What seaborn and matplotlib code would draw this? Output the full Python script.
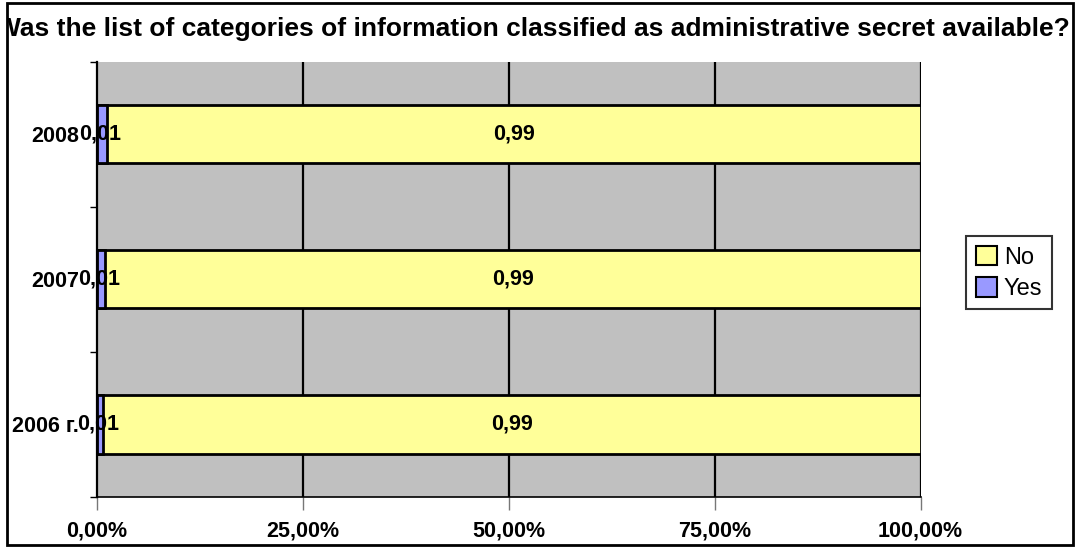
import numpy as np
import pandas as pd
import seaborn as sns
import matplotlib.pyplot as plt
from matplotlib.patches import Rectangle, Patch

years = ["2008", "2007", "2006 г."]
yes_share = [0.012, 0.010, 0.007]
no_share = [0.988, 0.990, 0.993]
yes_labels = ["0,01", "0,01", "0,01"]
no_labels = ["0,99", "0,99", "0,99"]
xtick_vals = [0, 0.25, 0.5, 0.75, 1.0]
xtick_text = ["0,00%", "25,00%", "50,00%", "75,00%", "100,00%"]

df = pd.DataFrame({"year": years, "yes": yes_share, "no": no_share})
df["total"] = df["yes"] + df["no"]

sns.set_style("white")
plt.rcParams["font.family"] = ["Liberation Sans", "DejaVu Sans"]
plt.rcParams["text.color"] = "black"
plt.rcParams["xtick.labelcolor"] = "black"
plt.rcParams["ytick.labelcolor"] = "black"

fig = plt.figure(figsize=(10.78, 5.47), dpi=100)
ax = fig.add_axes([0.090, 0.0914, 0.764, 0.7953])
ax.set_facecolor("#C0C0C0")

# stacked: draw the full bar (yellow) then the Yes part over it
sns.barplot(data=df, x="total", y="year", order=years, color="#FFFF99",
            width=0.4, edgecolor="black", linewidth=2, ax=ax, saturation=1)
sns.barplot(data=df, x="yes", y="year", order=years, color="#9999FF",
            width=0.4, edgecolor="black", linewidth=2, ax=ax, saturation=1)

for i in range(len(years)):
    ax.text(yes_share[i] / 2 - 0.002, i, yes_labels[i], ha="center", va="center",
            fontsize=15.5, fontweight="bold")
    ax.text(yes_share[i] + no_share[i] / 2, i, no_labels[i], ha="center",
            va="center", fontsize=15.5, fontweight="bold")

ax.set_xlim(0, 1)
ax.set_ylim(2.5, -0.5)
ax.set_xlabel("")
ax.set_ylabel("")

for xv in xtick_vals[1:]:
    ax.axvline(xv, color="black", lw=1.6, zorder=0.5)

ax.set_xticks(xtick_vals)
ax.set_xticklabels(xtick_text, fontsize=15.5, fontweight="bold")
ax.tick_params(axis="x", direction="out", length=9, width=1, color="#777777",
               pad=8, bottom=True)
ax.set_yticks(range(len(years)))
ax.set_yticklabels(years, fontsize=15.5, fontweight="bold")
ax.tick_params(axis="y", length=0, pad=13)
ax.set_yticks([-0.5, 0.5, 1.5, 2.5], minor=True)
ax.tick_params(axis="y", which="minor", direction="out", length=5, width=1,
               color="black", left=True)

for s in ["top", "right"]:
    ax.spines[s].set_visible(False)
ax.spines["left"].set_color("black")
ax.spines["left"].set_linewidth(1.6)
ax.spines["bottom"].set_color("black")
ax.spines["bottom"].set_linewidth(1.2)
ax.grid(False)

handles = [Patch(facecolor="#FFFF99", edgecolor="black", lw=1.5, label="No"),
           Patch(facecolor="#9999FF", edgecolor="black", lw=1.5, label="Yes")]
leg = fig.legend(handles=handles, loc="center", bbox_to_anchor=(0.936, 0.501),
                 fontsize=17, frameon=True, fancybox=False, handlelength=0.9,
                 handleheight=0.9, handletextpad=0.3, borderpad=0.4,
                 labelspacing=0.35, borderaxespad=0)
leg.get_frame().set_edgecolor("black")
leg.get_frame().set_linewidth(1.5)

border = Rectangle((7 / 1078, 2 / 547), 1066 / 1078, 542 / 547,
                   transform=fig.transFigure, fill=False, edgecolor="black",
                   lw=2, zorder=10)
fig.patches.append(border)

# the title is wider than the chart frame and gets cut at both sides
title = fig.text(533 / 1078, 1 - 36 / 547,
                 "Was the list of categories of information classified as administrative secret available?",
                 ha="center", va="baseline", fontsize=19, fontweight="bold")
title.set_clip_path(border)

fig.savefig("out.png", dpi=100)
